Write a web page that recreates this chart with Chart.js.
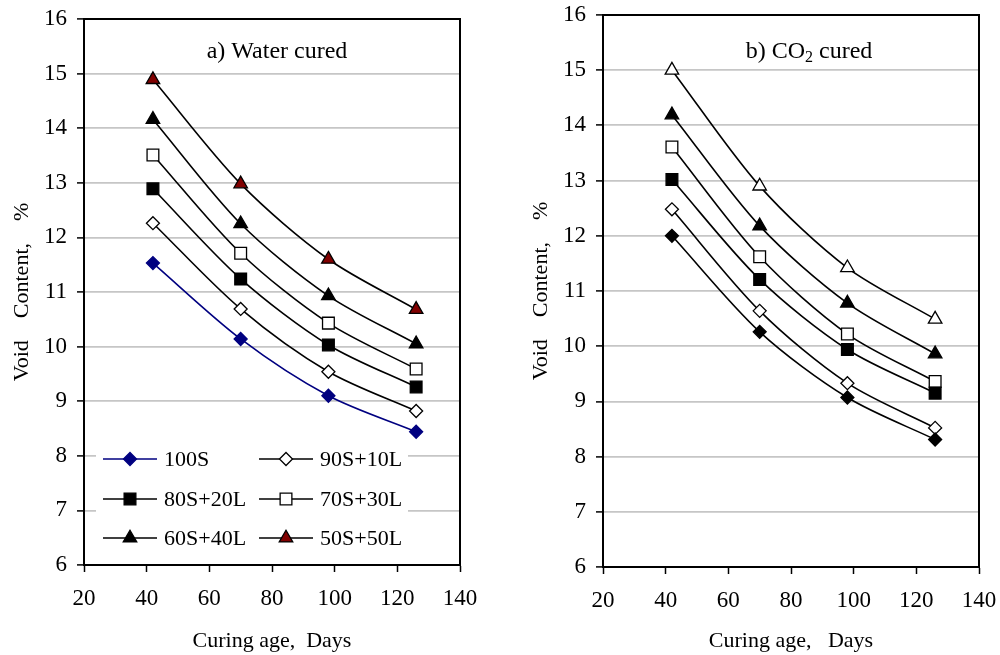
<!DOCTYPE html>
<html>
<head>
<meta charset="utf-8">
<title>Void content vs curing age</title>
<script src="https://cdn.jsdelivr.net/npm/chart.js@4.4.1/dist/chart.umd.min.js"></script>
<style>
  html, body { margin: 0; padding: 0; background: #fff; overflow: hidden; }
  #wrap { position: relative; width: 1000px; height: 655px; overflow: hidden; }
  .pane { position: absolute; top: -30px; height: 685px; }
</style>
</head>
<body>
<div id="wrap">
  <div class="pane" style="left:0; width:500px"><canvas id="waterChart" width="500" height="685"></canvas></div>
  <div class="pane" style="left:500px; width:520px"><canvas id="co2Chart" width="520" height="685"></canvas></div>
</div>
<script>
"use strict";

// Curing ages (days)
const ages = [42, 70, 98, 126];
const mixLabels = ["100S", "90S+10L", "80S+20L", "70S+30L", "60S+40L", "50S+50L"];

// a) Water cured - void content, %
const water100S = [11.53, 10.14, 9.1, 8.44];
const water90S10L = [12.26, 10.69, 9.54, 8.82];
const water80S20L = [12.89, 11.24, 10.03, 9.26];
const water70S30L = [13.51, 11.71, 10.43, 9.59];
const water60S40L = [14.16, 12.25, 10.93, 10.05];
const water50S50L = [14.89, 12.98, 11.6, 10.68];

// b) CO2 cured - void content, %
const co2100S = [12.0, 10.26, 9.07, 8.31];
const co290S10L = [12.48, 10.64, 9.33, 8.52];
const co280S20L = [13.02, 11.21, 9.94, 9.15];
const co270S30L = [13.61, 11.62, 10.22, 9.36];
const co260S40L = [14.19, 12.18, 10.78, 9.86];
const co250S50L = [15.0, 12.9, 11.42, 10.49];

const ageTicks = { min: 20, max: 140, step: 20 };
const voidTicks = { min: 6, max: 16, step: 1 };

const FONT = "'Liberation Serif', 'Times New Roman', serif";
const TICK_SIZE = 23;
const LABEL_SIZE = 22;
const TITLE_SIZE = 24;
const OFFSET_Y = 30; // canvases start 30px above the page

// marker styles for each mix (same order as mixLabels)
const waterStyles = [
  { line: "#000080", point: "rectRot", fill: "#000080", border: "#000080", r: 6.5 },
  { line: "#000", point: "rectRot", fill: "#fff", border: "#000", r: 6.5 },
  { line: "#000", point: "rect", fill: "#000", border: "#000", r: 8.3 },
  { line: "#000", point: "rect", fill: "#fff", border: "#000", r: 8.3 },
  { line: "#000", point: "triangle", fill: "#000", border: "#000", r: 7.8 },
  { line: "#000", point: "triangle", fill: "#800000", border: "#000", r: 7.8 }
];
const co2Styles = [
  { line: "#000", point: "rectRot", fill: "#000", border: "#000", r: 6.5 },
  { line: "#000", point: "rectRot", fill: "#fff", border: "#000", r: 6.5 },
  { line: "#000", point: "rect", fill: "#000", border: "#000", r: 8.3 },
  { line: "#000", point: "rect", fill: "#fff", border: "#000", r: 8.3 },
  { line: "#000", point: "triangle", fill: "#000", border: "#000", r: 7.8 },
  { line: "#000", point: "triangle", fill: "#fff", border: "#000", r: 7.8 }
];

const buildDatasets = (seriesList, styles) =>
  seriesList.map((values, i) => ({
    label: mixLabels[i],
    data: ages.map((age, j) => ({ x: age, y: values[j] })),
    borderColor: styles[i].line,
    borderWidth: 1.6,
    tension: 0.3,
    pointStyle: styles[i].point,
    pointRadius: styles[i].r,
    pointBackgroundColor: styles[i].fill,
    pointBorderColor: styles[i].border,
    pointBorderWidth: 1.3,
    fill: false
  }));

// black frame round the plot area
const framePlugin = {
  id: "frame",
  beforeDatasetsDraw(chart) {
    const { ctx, chartArea: a } = chart;
    ctx.save();
    ctx.strokeStyle = "#000";
    ctx.lineWidth = 2;
    ctx.strokeRect(a.left, a.top, a.right - a.left, a.bottom - a.top);
    ctx.restore();
  }
};

// title inside the plot, parts may be subscript
const innerTitlePlugin = {
  id: "innerTitle",
  afterDraw(chart, args, opts) {
    if (!opts.parts) return;
    const { ctx } = chart;
    ctx.save();
    ctx.fillStyle = "#000";
    ctx.textBaseline = "middle";
    const big = `${TITLE_SIZE}px ${FONT}`;
    const small = `${Math.round(TITLE_SIZE * 0.65)}px ${FONT}`;
    let total = 0;
    opts.parts.forEach((p) => {
      ctx.font = p.sub ? small : big;
      total += ctx.measureText(p.text).width;
    });
    let x = opts.x - total / 2;
    const y = opts.y + OFFSET_Y;
    opts.parts.forEach((p) => {
      ctx.font = p.sub ? small : big;
      ctx.textAlign = "left";
      ctx.fillText(p.text, x, y + (p.sub ? 6 : 0));
      x += ctx.measureText(p.text).width;
    });
    ctx.restore();
  }
};

// two column legend sitting inside the plot area
const innerLegendPlugin = {
  id: "innerLegend",
  afterDraw(chart, args, opts) {
    if (!opts.show) return;
    const { ctx } = chart;
    ctx.save();
    ctx.fillStyle = "#fff";
    ctx.fillRect(opts.box.x, opts.box.y + OFFSET_Y, opts.box.w, opts.box.h);
    chart.data.datasets.forEach((ds, i) => {
      const col = i % 2;
      const row = Math.floor(i / 2);
      const x0 = opts.colX[col];
      const y = opts.rowY[row] + OFFSET_Y;
      ctx.strokeStyle = ds.borderColor;
      ctx.lineWidth = 1.6;
      ctx.beginPath();
      ctx.moveTo(x0, y);
      ctx.lineTo(x0 + 54, y);
      ctx.stroke();
      ctx.fillStyle = ds.pointBackgroundColor;
      ctx.strokeStyle = ds.pointBorderColor;
      ctx.lineWidth = ds.pointBorderWidth;
      Chart.helpers.drawPoint(
        ctx,
        { pointStyle: ds.pointStyle, radius: ds.pointRadius, rotation: 0, borderWidth: ds.pointBorderWidth },
        x0 + 27,
        y
      );
      ctx.fillStyle = "#000";
      ctx.font = `${LABEL_SIZE}px ${FONT}`;
      ctx.textAlign = "left";
      ctx.textBaseline = "middle";
      ctx.fillText(ds.label, x0 + 61, y + 1);
    });
    ctx.restore();
  }
};

const makeChart = (canvasId, datasets, layout) => {
  const tickFont = { family: FONT, size: TICK_SIZE };
  const labelFont = { family: FONT, size: LABEL_SIZE };
  return new Chart(document.getElementById(canvasId), {
    type: "line",
    data: { datasets: datasets },
    plugins: [framePlugin, innerTitlePlugin, innerLegendPlugin],
    options: {
      responsive: false,
      animation: false,
      layout: { padding: layout.padding },
      plugins: {
        legend: { display: false },
        tooltip: { enabled: false },
        innerTitle: layout.title,
        innerLegend: layout.legend
      },
      scales: {
        x: {
          type: "linear",
          min: ageTicks.min,
          max: ageTicks.max,
          ticks: { stepSize: ageTicks.step, color: "#000", font: tickFont, padding: 13, maxRotation: 0 },
          grid: { drawOnChartArea: false, tickLength: 7, tickColor: "#000", tickWidth: 1.5 },
          border: { display: true, color: "#000", width: 2 },
          title: { display: true, text: layout.xTitle, color: "#000", font: labelFont, padding: { top: 4, bottom: 1 } },
          afterFit: (scale) => { scale.height = layout.xHeight; }
        },
        y: {
          min: voidTicks.min,
          max: voidTicks.max,
          ticks: { stepSize: voidTicks.step, color: "#000", font: tickFont, padding: 10 },
          grid: { color: "#c6c6c6", lineWidth: 1.8, tickLength: 7, tickColor: "#000", tickWidth: 1.5 },
          border: { display: true, color: "#000", width: 2 },
          title: { display: true, text: "Void    Content,    %", color: "#000", font: labelFont, padding: { top: 4, bottom: 4 } },
          afterFit: (scale) => { scale.width = layout.yWidth; }
        }
      }
    }
  });
};

const initCharts = () => {
  makeChart(
    "waterChart",
    buildDatasets([water100S, water90S10L, water80S20L, water70S30L, water60S40L, water50S50L], waterStyles),
    {
      padding: { top: 49, right: 40, left: 5, bottom: 0 },
      yWidth: 79,
      xHeight: 90,
      xTitle: "Curing age,  Days",
      title: { parts: [{ text: "a) Water cured" }], x: 277, y: 52 },
      legend: {
        show: true,
        box: { x: 96, y: 440, w: 312, h: 116 },
        colX: [103, 259],
        rowY: [459, 499, 538]
      }
    }
  );

  makeChart(
    "co2Chart",
    buildDatasets([co2100S, co290S10L, co280S20L, co270S30L, co260S40L, co250S50L], co2Styles),
    {
      padding: { top: 45, right: 41, left: 24, bottom: 0 },
      yWidth: 79,
      xHeight: 88,
      xTitle: "Curing age,   Days",
      title: {
        parts: [{ text: "b) CO" }, { text: "2", sub: true }, { text: " cured" }],
        x: 309,
        y: 52
      },
      legend: { show: false }
    }
  );
};

document.addEventListener("DOMContentLoaded", initCharts);
</script>
</body>
</html>
